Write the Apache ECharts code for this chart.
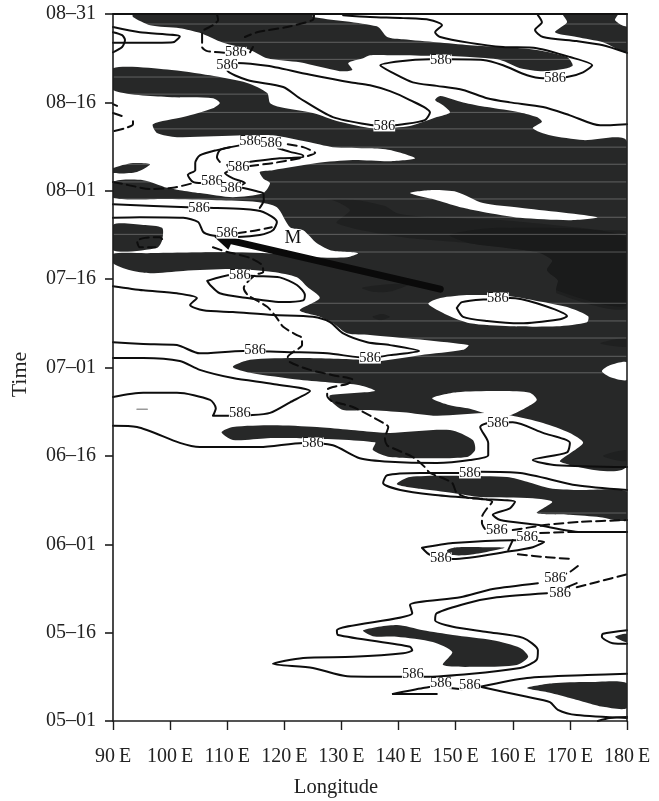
<!DOCTYPE html>
<html><head><meta charset="utf-8">
<style>html,body{margin:0;padding:0;background:#fff}#c{width:659px;height:801px}</style>
<script src="https://cdn.jsdelivr.net/npm/echarts@6/dist/echarts.min.js"></script>
</head><body><div id="c"></div>
<script>
const lonLabels=['90\u2009E','100\u2009E','110\u2009E','120\u2009E','130\u2009E','140\u2009E','150\u2009E','160\u2009E','170\u2009E','180\u2009E'];
const dateLabels=['05\u201301','05\u201316','06\u201301','06\u201316','07\u201301','07\u201316','08\u201301','08\u201316','08\u201331'];
const contourValue='586';

const bigDark=[[90,110.8],[99.5,110.6],[107,109.6],[113.5,108.3],[117,106.6],[117.5,104.9],[119.2,104.2],[125,103.2],[129.7,101.7],[135.5,100.6],[142,101],[146.7,102.5],[149,103.3],[147.8,104.5],[146.4,105.4],[147.3,106.1],[151.3,105],[155.5,104.2],[161.3,103.3],[164.2,102.5],[165.1,101.7],[163.5,100.6],[166.5,99.4],[172.3,98.6],[180,98.3],[180,43.4],[168.3,44],[172.3,47.2],[170,48.9],[165.3,50.6],[159.5,51.9],[156,52.3],[146.7,51.8],[140.8,52.4],[135,52.8],[130.3,52.8],[128,54.5],[128,55.3],[135.9,56],[133.2,57],[128.5,57.4],[122.7,57.9],[114,59.1],[111,60.1],[114,61.3],[122.7,61.6],[133.2,61.3],[135,60.9],[143.8,62.1],[151.3,63],[152.2,63.8],[135,65.5],[131,65.8],[128.5,67.5],[126.2,68.6],[122.7,69.7],[126.2,71.8],[124,73.7],[122.2,75.3],[118,76.2],[111,76.7],[102.3,76.4],[96.5,76],[93,76.5],[90,77.7],[90,79.3],[96,79.4],[108.2,79.6],[117,79.4],[125,78.7],[131,78.7],[132.9,79.4],[128.5,79.8],[125.7,81.1],[123.3,83.3],[121,83.8],[118.7,87.2],[115.2,88.1],[108.2,88.4],[99.5,88.6],[90,88.8],[90,91.5],[95.3,91.8],[99.5,90.5],[101.7,90.1],[105.2,89.6],[111,88.9],[116.3,89.6],[117.5,91.3],[116.3,92.1],[115.7,93.2],[118,93.5],[125.7,94.7],[132,95.2],[138.5,95],[142.9,95.5],[138.5,96.9],[135,97.2],[128.5,97.4],[124,98.3],[118,99.4],[112.8,99.4],[101.2,99.1],[97.7,99.8],[97,101.3],[102.3,102.5],[107.5,104],[108.7,104.9],[107.5,105.7],[99.5,105.9],[90,107.1]];
const topBand=[[93.5,120],[125,120],[125,119.5],[136.2,117.9],[138,116.1],[140.8,115.7],[146.7,115.2],[152.5,114.7],[158.3,114.4],[164.2,113.9],[169.5,112.7],[170.5,111.3],[169.5,110.8],[165.3,110.3],[161.3,110.8],[157.8,112.2],[152.5,112.7],[145.5,112.9],[138.5,113],[135,113],[133.8,112.5],[131.2,111.7],[131.9,110.5],[129.7,110.3],[122.7,111.8],[117,112.5],[114,113.9],[109.3,115.1],[105.2,116.8],[101.7,117.6],[96.5,118.1],[93.5,119.5]];
const topRight=[[168.8,120],[178.4,120],[177.9,119],[179.3,118],[180,117.8],[180,113.5],[175.8,115.2],[171.2,116.1],[167.4,116.9],[169.5,118.6]];
const leftBlob=[[90,84.2],[95.3,84.2],[98.6,83.7],[98.6,81.6],[97.7,80.3],[90,79.9]];
const leftSliver=[[90,93.8],[93.5,94.7],[96.5,94.5],[94.2,93.2],[90,93]];
const lensBlob=[[109,49],[111,49.9],[118,50.2],[125.7,49.9],[136.2,49],[138.5,48.9],[149,49.4],[153,47.7],[153.4,46],[152,44.8],[143.8,44.6],[138.5,44.8],[135.5,46],[135.9,47.3],[122.7,48],[117,48],[111,47.7]];
const juneBand=[[139.7,40.2],[142,41.4],[150.8,41.6],[159,41.4],[162.5,40.6],[166.5,39.5],[171.2,39.2],[180,38.9],[180,34.1],[175.3,34.6],[170,35],[164.2,35.3],[166.9,37.2],[163.5,37.8],[154.3,38],[149.5,38.7],[143.8,39.4]];
const juneSliver=[[148.5,29],[150.2,29.5],[155.5,29.5],[158.6,29.4],[152.5,28.2],[149,28.2]];
const mayBlob=[[133.8,15.4],[139.7,16.3],[144.3,15.4],[149.5,14.6],[156.5,13.7],[161.3,12.4],[162.7,10.9],[160.7,9.5],[154.3,9.2],[147.8,9.5],[149.4,11.7],[146,13.4],[139.7,14.3],[135.5,14.4]];
const mayRight=[[162.5,5.6],[167,6.4],[173,6.6],[180,6.4],[180,2.2],[175.8,2.4],[173,3.1],[170,3.9],[166.5,4.8]];
const mayEdge=[[177.9,14.3],[180,14.8],[180,13.4]];
const darkAreas=[bigDark,topBand,topRight,leftBlob,leftSliver,lensBlob,juneBand,juneSliver,mayBlob,mayRight,mayEdge];

const coreArea=[[124.5,88.6],[132.7,88.4],[137.6,87.4],[139.7,86.2],[145.5,85.5],[158.3,85],[175.8,83.3],[180,82.8],[180,70.1],[167.7,72.6],[167.9,74.8],[166,76.5],[166.9,78.2],[164.2,79.6],[152.5,81.1],[140.8,82.1],[129.2,84.5],[131.5,86.7],[128.5,88.4]];
const spotA=[[133.6,73.5],[136.8,74],[142,74.2],[139,73],[135.9,72.8]];
const spotB=[[135.4,68.6],[137.1,69.1],[138.5,68.6],[136.8,68]];
const spotC=[[175.3,64.1],[180,65],[180,63.5]];
const spotD=[[175.8,45],[180,46],[180,44.1]];
const darkerAreas=[coreArea,spotA,spotB,spotC,spotD];
const innerCore=[[157.8,83.7],[180,82],[180,70.6],[167.7,73.1],[167.9,74.8],[166,76.5],[166.9,78.2],[164.2,79.6],[152.5,81.1],[149,82.5]];

const holeTongue=[[142,89.6],[145.5,90.1],[150.2,89.8],[154.8,87.9],[161.3,87.1],[174.8,85.5],[170,85],[161.3,85.4],[154.8,86.4],[151.3,87.1],[146.7,88.4]];
const holeOval=[[145.2,70.8],[147.3,71.8],[152.5,72.3],[159.5,72.1],[165.3,71.1],[170,70.1],[173.2,68.7],[173,67.7],[167.7,67],[159.5,67],[152.5,67.5],[148.5,68.9]];
const holeBlob=[[145.9,54.8],[150.2,55.8],[158.3,56],[163,55.7],[164.2,54.5],[162.5,53.3],[159.5,51.9],[156.5,51.9],[152.5,53],[149,53.6]];
const holeRight=[[180,60.9],[177,60.4],[175.6,59.4],[177,58.4],[180,57.9]];
const whiteAreas=[holeTongue,holeOval,holeBlob,holeRight];

const streakDays=[118.3,115.2,112.3,109.3,106.4,103.3,100.5,97.4,94.5,91.5,88.6,85.5,82.6,79.6,70.9,67.9,65,61.9,59.1,35.3];

const c1=[[90,117.8],[94.7,116.9],[101.7,116.2],[100.5,115.2],[95.3,115.1],[90,115.1]];
const c1b=[[90,116.9],[91.6,116.4],[92.1,115.6],[91.6,114.4],[90,113.5]];
const c4=[[110,111.3],[111.7,111.7],[117,111.2],[125,109.6],[131.5,108.4],[135,107.9],[138.5,106.9],[142,105.4],[145.5,103.3],[144.6,102],[140.8,101.3],[137.6,101],[135.5,101.1],[128.5,102.5],[122.7,105.7],[119.8,107.6],[113.5,108.8],[110,110.5],[110,111.3]];
const c5=[[130.3,119.8],[135,119.5],[140.8,119.3],[145.5,119],[147.6,118.1],[146.4,116.9],[147.3,116.1],[152.5,115.1],[158.3,114.4],[164.2,114.2],[170,112.7],[173.9,111.3],[172.3,110.1],[169.5,109.3],[165.3,109.1],[162.5,109.6],[158.3,111.3],[154.8,112.2],[149,112.3],[145.5,112.3],[140.3,112],[136.8,111.3],[139,110],[142.5,108.4],[146.7,107.8],[151.3,107.1],[155.5,105.7],[159.5,105],[165.3,104.2],[170,102.8],[175.3,101.1],[180,101.3]];
const c6=[[164.4,119.8],[165.1,118.6],[163.9,117.3],[165.3,116.1],[171.2,115.4],[175.8,114.7],[180,113.4]];
const c8=[[112.2,97.7],[108.2,96.9],[105.2,96],[104.4,94.7],[104.4,93.5],[103.1,92.7],[104,91.5],[105.6,91.3]];
const c9=[[108.7,94.9],[108.2,95.7],[108.7,96.9],[110.5,97.4]];
const c10=[[118.9,97.2],[121,96.6],[123.3,96],[123.3,95.7],[119.2,95.5],[114,94.9],[112.8,94.7]];
const c11=[[110,94.4],[110.5,93.5],[109.6,93],[111,92.1],[113.1,91.3],[111.7,90.6],[112.6,90.5],[115.2,89.9],[116.3,89.6],[116.4,88.4],[115.7,87.1]];
const c12=[[90,87.7],[103.1,87.2],[106.6,87.1],[112.8,86.9],[116.3,86.4],[118.7,84.7],[118,83.3],[115.7,82.5],[111,82.1]];
const c13=[[90,85.4],[94.7,85.5],[102.3,85.4],[104.9,84.7],[105.8,83],[107,82.5],[110,82.1]];
const ovalW=[[106.5,74.7],[110.8,75.7],[115.2,75.5],[119.2,75.3],[122.2,74],[123.6,72.3],[123.3,71.4],[119.8,71.1],[113.5,71.8],[108.7,72.6],[107,74],[106.5,74.7]];
const ovalE=[[150.2,70.1],[151.1,71.1],[155.7,71.6],[159.5,71.8],[164.2,70.9],[169.5,68.7],[168.3,68.2],[161.3,67.5],[155.5,67.9],[151.3,68.6],[150.2,70.1]];
const c14=[[90,73.8],[95.3,73.1],[101.2,72.6],[104.7,71.8],[103.5,70.6],[105.8,69.7],[111,69.4],[118,68.9],[125,68.6],[128,67.7],[130.3,65.8],[134.5,64.3],[138.5,63.8],[143.6,62.8],[138.5,62.1],[135,61.6],[127.5,62.4],[121.5,62.6],[112.8,62.8],[105.2,62.4],[101.2,63.8],[95.3,64],[90,64.3]];
const c15=[[90,61.6],[95.3,61.6],[101.7,61.1],[105.2,59.6],[111,58.2],[118,57.2],[124.5,56],[121,54.1],[117.5,52.3],[114,51.9],[110.5,51.8],[107.5,51.8],[108,53.1],[107,54.5],[101.2,55.7],[95.3,55.7],[90,55]];
const c16=[[90,50.1],[94.2,49.9],[101.7,47.2],[105.2,46.5],[115.7,46.5],[123.3,47.2],[128.5,46.8],[133.2,44.6],[138.5,44],[146.7,43.8],[152.5,44.3],[155.7,45.1],[155.7,47.2],[154.3,49.9],[155.7,50.6],[160,50.7],[165.3,48.9],[170,47.2],[169.5,45.6],[163.5,44.3],[167.7,43.4],[180,43.1]];
const c17=[[180,39.2],[171.2,40],[161.3,42.1],[154.3,42.3],[150.8,42.1],[143.8,42.1],[138,41.7],[137.3,40.4],[140.3,39.2],[146,38.4],[154.3,37.7],[160.4,37.2],[159.5,36.1],[156.5,35],[157.8,34.1],[164.2,33.3],[171.8,32.1],[180,32.1]];
const c18=[[144.1,29.4],[149.5,30.2],[160,30.7],[165.5,30.4],[163.5,29.5],[159.5,28.8],[149.5,27.5],[145.5,28.2],[144.1,29.4]];
const c18b=[[160,30.7],[159.2,29]];
const c19=[[164.4,23.4],[156.5,22.4],[150.8,21],[142,19.7],[142.4,18.3],[129.2,15.4],[129.4,14.6],[142,12.6],[142.4,12],[140.8,11.5],[132,10.9],[123.3,10.7],[118,9.7],[125,9],[131,7.6],[140.3,7.5],[144.3,7.5],[161.3,9],[164.2,10.4],[164.4,12],[161.8,14.1],[155.5,15.1],[149.5,16],[146.4,17.1],[146.7,18.3],[152,20],[157.2,21],[166,21.7]];
const c19b=[[171.2,23.4],[169.2,22.6]];
const c20=[[139,4.6],[144.3,5.6],[146,5.8]];
const c20b=[[139,4.6],[146.7,4.6]];
const c20c=[[149,5.6],[151.1,5.4]];
const c21=[[154.3,5.8],[162.5,7.3],[173,7.8],[180,8]];
const c22=[[154.3,5.8],[162.5,4.1],[166.5,3.2],[167.9,1.9],[171.2,1],[180,0.5]];
const c23=[[174.9,0],[177,0.5],[180,0.7]];
const c24=[[180,15.4],[175.8,14.8],[175.6,14.3],[177.5,13.2],[180,13.1]];
const solidContours=[c1,c1b,c4,c5,c6,c8,c9,c10,c11,c12,c13,ovalW,ovalE,c14,c15,c16,c17,c18,c18b,c19,c19b,c20,c20b,c20c,c21,c22,c23,c24];

const d2=[[108.2,120],[108.4,119],[107.5,118.1],[105.6,116.9],[105.6,114.4],[106.5,113.7],[110.5,113.4]];
const d3=[[125.2,120],[125,119],[120.5,117.8],[115.2,116.9],[113.1,116.1]];
const d3b=[[114,113.5],[114.5,114.4]];
const d4=[[120.6,97.9],[123.3,97.4],[125.4,96.4],[123.3,95.7]];
const d5=[[122.7,95.5],[118,94.7],[114,94.2]];
const d6=[[90,91.5],[92.5,91],[96.5,90.3],[100.5,90.5],[104,91.3]];
const d7=[[111.7,82.8],[115.2,83.3],[117.8,83.8]];
const d8=[[98.6,81.8],[98.2,82.1],[95.6,82],[94.2,81.5],[94.7,80.4],[97.4,80.4]];
const d9=[[90,104.7],[90.7,104.4]];
const d10=[[90,103.2],[92.1,102.5]];
const d11=[[93.5,101.8],[93.5,101.3],[92.1,100.6],[90,100.1]];
const trough=[[107.5,80.4],[110,79.6],[111,79.4],[114,78.6],[116.1,77.4],[116.3,76.2],[114.9,75.7],[112.9,73.5],[113.6,72.3],[117,70.3],[118.7,68.4],[119.8,66.9],[122.2,65.5],[123.1,65],[123.1,63.8],[121.5,62.6],[120.6,61.8],[121,60.9],[124.5,59.6],[128.5,58.7],[132,57.9],[131,57.2],[128.5,56.7],[127.5,56.2],[127.5,55.2],[128.3,54.3],[132,53.3],[137.3,50.6],[138.2,49.9],[137.6,48],[138,46.8],[139,46.3],[142.5,44.8],[144.6,43.1],[145.5,42.1],[147.8,41.2],[149.4,40.4],[150.2,38.7],[152.5,37.8],[154.8,37.7],[156.4,37.2],[155.5,36.1],[154.6,34.6],[154.6,33.6],[155.5,32.1]];
const d12=[[160,32.4],[166,33.3],[171.8,33.8],[180,34.1]];
const d13=[[164.8,31.9],[171.8,32.1],[180,32.1]];
const d14=[[160.9,28.3],[166,27.8],[170.5,27.5]];
const d15=[[171.4,26.3],[170,25.3],[168.8,24.8]];
const d16=[[171.2,22.7],[174.8,23.6],[180,24.9]];
const dashedContours=[d2,d3,d3b,d4,d5,d6,d7,d8,d9,d10,d11,trough,d12,d13,d14,d15,d16];

const greyMark=[[94.2,52.9],[96,52.9]];
const arrowShaft=[[110.8,81.5],[147.3,73.3]];
const arrowHead=[[107.7,82.2],[111.6,83],[110.2,80]];
const labelPoints=[[111.5,113.5],[110,111.3],[114,98.4],[117.7,98.1],[112,94],[107.3,91.6],[110.7,90.5],[105.1,87.1],[110,82.8],[112.2,75.7],[114.9,63],[135,61.6],[112.2,52.3],[125,47.2],[137.5,101],[147.4,112.2],[167.4,109.1],[157.4,71.8],[157.4,50.6],[152.5,42.1],[157.2,32.4],[162.5,31.2],[147.4,27.7],[167.4,24.3],[168.3,21.7],[142.5,8],[147.4,6.4],[152.5,6.1]];
const markerM=[[121.5,82]];

const serif='"Liberation Serif","Times New Roman",serif';
const ink='#1c1c1c';

function areaSeries(points,fill,z,smooth){
  return {type:'custom',coordinateSystem:'cartesian2d',clip:true,silent:true,z:z,data:points,encode:{x:0,y:1},
    renderItem:function(params,api){
      if(params.dataIndex!==0)return null;
      return {type:'polygon',shape:{points:points.map(p=>api.coord(p)),smooth:smooth===undefined?0.25:smooth},style:{fill:fill,stroke:null}};
    }};
}
function lineSeries(points,opt){
  opt=opt||{};
  return {type:'line',data:points,smooth:opt.smooth===undefined?0.25:opt.smooth,showSymbol:false,symbol:'none',silent:true,clip:true,z:opt.z||5,animation:false,
    lineStyle:{color:opt.color||'#0d0d0d',width:opt.width||2,type:opt.type||'solid',cap:'round',join:'round'}};
}
const streakSeries={type:'custom',coordinateSystem:'cartesian2d',clip:true,silent:true,z:4,data:streakDays.map(d=>[90,d]),encode:{x:0,y:1},
  renderItem:function(params,api){
    const d=api.value(1),a=api.coord([90,d]),b=api.coord([180,d]);
    return {type:'line',shape:{x1:a[0],y1:a[1],x2:b[0],y2:b[1]},style:{stroke:'rgba(255,255,255,0.27)',lineWidth:1}};
  }};
const series=[];
darkAreas.forEach(a=>series.push(areaSeries(a,'#272828',2)));
darkerAreas.forEach(a=>series.push(areaSeries(a,'#1f2020',2)));
series.push(areaSeries(innerCore,'#1a1b1b',2));
whiteAreas.forEach(a=>series.push(areaSeries(a,'#ffffff',3)));
series.push(streakSeries);
solidContours.forEach(c=>series.push(lineSeries(c)));
dashedContours.forEach(c=>series.push(lineSeries(c,{type:[9,5]})));
series.push(lineSeries(greyMark,{color:'#999',width:1.5,smooth:false}));
series.push(lineSeries(arrowShaft,{color:'#0a0a0a',width:7,smooth:false,z:6}));
series.push(areaSeries(arrowHead,'#0a0a0a',6,0));
series.push({type:'scatter',data:labelPoints,symbolSize:0,silent:true,z:7,itemStyle:{opacity:1},
  label:{show:true,position:'inside',opacity:1,formatter:contourValue,fontFamily:serif,fontSize:14.5,color:'#111',backgroundColor:'#fff',padding:[0,0,0,0],lineHeight:11}});
series.push({type:'scatter',data:markerM,symbolSize:0,silent:true,z:7,itemStyle:{opacity:1},
  label:{show:true,position:'inside',opacity:1,formatter:'M',fontFamily:serif,fontSize:19,color:'#111'}});

const axisLine={show:true,onZero:false,lineStyle:{color:ink,width:1.6}};
const chart=echarts.init(document.getElementById('c'),null,{renderer:'canvas'});
chart.setOption({
  animation:false,backgroundColor:'#fff',
  grid:{left:113,right:32,top:14,bottom:80,containLabel:false,outerBoundsMode:'none'},
  xAxis:[{type:'value',min:90,max:180,interval:10,z:10,name:'Longitude',nameLocation:'middle',nameGap:56,
    nameTextStyle:{fontFamily:serif,fontSize:20.5,color:'#222',padding:[0,68,0,0]},splitLine:{show:false},axisLine:axisLine,
    axisTick:{show:true,length:9,lineStyle:{color:ink,width:1.4}},
    axisLabel:{margin:26,fontFamily:serif,fontSize:20,color:'#222',formatter:v=>lonLabels[(v-90)/10],showMinLabel:true,showMaxLabel:true,hideOverlap:false}},
    {type:'value',min:90,max:180,position:'top',z:10,splitLine:{show:false},axisLine:Object.assign({},axisLine,{lineStyle:{color:'#111',width:2}}),axisTick:{show:false},axisLabel:{show:false}}],
  yAxis:[{type:'value',min:0,max:120,interval:15,z:10,name:'Time',nameLocation:'middle',nameGap:82,nameRotate:90,
    nameTextStyle:{fontFamily:serif,fontSize:22,color:'#222',padding:[0,14,0,0]},splitLine:{show:false},axisLine:axisLine,
    axisTick:{show:true,length:8,lineStyle:{color:ink,width:1.6}},
    axisLabel:{margin:17,fontFamily:serif,fontSize:20,color:'#222',formatter:v=>dateLabels[v/15],showMinLabel:true,showMaxLabel:true}},
    {type:'value',min:0,max:120,position:'right',z:10,splitLine:{show:false},axisLine:Object.assign({},axisLine,{lineStyle:{color:'#222',width:1.6}}),axisTick:{show:false},axisLabel:{show:false}}],
  series:series
});
</script></body></html>
